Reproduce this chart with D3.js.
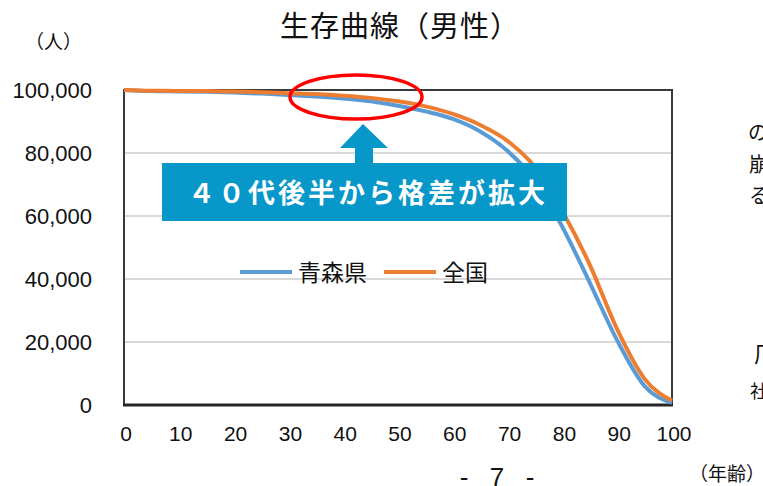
<!DOCTYPE html>
<html lang="ja">
<head>
<meta charset="utf-8">
<script src="https://cdn.jsdelivr.net/npm/d3@7"></script>
<style>
  html, body { margin: 0; padding: 0; background: #fff; }
  #chart { width: 763px; height: 486px; overflow: hidden; }
  .jp { font-family: "Noto Sans CJK JP", "Noto Sans", sans-serif; }
  .num { font-family: "Liberation Sans", Arial, sans-serif; }
</style>
</head>
<body>
<div id="chart"></div>
<script>
// ages (years) and survivors per 100,000 males
const ages = [0, 5, 10, 15, 20, 25, 30, 35, 40, 45, 50, 55, 60, 65, 70, 75, 80, 85, 90, 95, 100];
const aomori = [100000, 99650, 99550, 99450, 99200, 98850, 98450, 97950, 97300, 96400, 95000,
  93200, 90800, 86800, 80600, 71300, 56500, 38800, 20500, 6000, 700];
const zenkoku = [100000, 99750, 99700, 99650, 99500, 99300, 99000, 98700, 98200, 97500, 96400,
  94800, 92400, 88900, 83800, 75500, 61500, 44500, 24000, 8300, 1400];

const seriesNames = ['青森県', '全国'];
const seriesColors = ['#5b9bd5', '#ed7d31'];
const xTicks = [0, 10, 20, 30, 40, 50, 60, 70, 80, 90, 100];
const yTicks = [0, 20000, 40000, 60000, 80000, 100000];

(function initChart() {
  const W = 763, H = 486;
  const svg = d3.select('#chart').append('svg')
    .attr('width', W).attr('height', H)
    .attr('viewBox', `0 0 ${W} ${H}`);

  svg.append('rect').attr('width', W).attr('height', H).attr('fill', '#fff');

  // plot area
  const left = 124, right = 672, top = 90, bottom = 405;
  const x = d3.scaleLinear().domain([0, 100]).range([left, right]);
  const y = d3.scaleLinear().domain([0, 100000]).range([bottom, top]);

  // title + unit labels
  svg.append('text').attr('class', 'jp')
    .attr('x', 400).attr('y', 37)
    .attr('text-anchor', 'middle')
    .attr('font-size', 29).attr('letter-spacing', 1)
    .attr('fill', '#111')
    .text('生存曲線（男性）');

  svg.append('text').attr('class', 'jp')
    .attr('x', 25).attr('y', 49)
    .attr('font-size', 19).attr('fill', '#111')
    .text('（人）');

  // gridlines
  svg.append('g').selectAll('line')
    .data(yTicks.filter(d => d > 0 && d < 100000))
    .join('line')
    .attr('x1', left).attr('x2', right)
    .attr('y1', d => y(d)).attr('y2', d => y(d))
    .attr('stroke', '#d9d9d9').attr('stroke-width', 2);

  // y axis labels
  const fmt = d3.format(',');
  svg.append('g').selectAll('text')
    .data(yTicks).join('text')
    .attr('class', 'num')
    .attr('x', 92).attr('y', d => y(d) + 8)
    .attr('text-anchor', 'end')
    .attr('font-size', 22)
    .attr('fill', '#111')
    .text(d => fmt(d));

  // x axis labels
  svg.append('g').selectAll('text')
    .data(xTicks).join('text')
    .attr('class', 'num')
    .attr('x', d => x(d) + 2).attr('y', 441)
    .attr('text-anchor', 'middle')
    .attr('font-size', 21).attr('fill', '#111')
    .text(d => d);

  // frame
  svg.append('rect')
    .attr('x', left).attr('y', top)
    .attr('width', right - left).attr('height', bottom - top)
    .attr('fill', 'none').attr('stroke', '#3a3a3a').attr('stroke-width', 2);
  svg.append('line')
    .attr('x1', left - 1).attr('x2', right + 1)
    .attr('y1', bottom).attr('y2', bottom)
    .attr('stroke', '#262626').attr('stroke-width', 3);

  // curves
  const line = d3.line()
    .x((d, i) => x(ages[i]))
    .y(d => y(d))
    .curve(d3.curveMonotoneX);

  [aomori, zenkoku].forEach((s, i) => {
    svg.append('path')
      .datum(s)
      .attr('d', line)
      .attr('fill', 'none')
      .attr('stroke', seriesColors[i])
      .attr('stroke-width', 4)
      .attr('stroke-linejoin', 'round');
  });

  // legend
  const legend = svg.append('g').attr('class', 'legend');
  const legX = [240, 384];
  seriesNames.forEach((name, i) => {
    legend.append('line')
      .attr('x1', legX[i]).attr('x2', legX[i] + 52)
      .attr('y1', 272).attr('y2', 272)
      .attr('stroke', seriesColors[i]).attr('stroke-width', 4);
    legend.append('text').attr('class', 'jp')
      .attr('x', legX[i] + 58).attr('y', 281)
      .attr('font-size', 23).attr('fill', '#111')
      .text(name);
  });

  // callout box + arrow
  const blue = '#0797c9';
  svg.append('rect')
    .attr('x', 162).attr('y', 163)
    .attr('width', 405).attr('height', 58)
    .attr('fill', blue);
  svg.append('text').attr('class', 'jp')
    .attr('x', 188).attr('y', 203)
    .attr('font-size', 27).attr('font-weight', 700)
    .attr('letter-spacing', 3)
    .attr('fill', '#fff')
    .text('４０代後半から格差が拡大');
  svg.append('path')
    .attr('d', 'M363,124 L388,148 L373,148 L373,164 L355,164 L355,148 L340,148 Z')
    .attr('fill', blue);

  // red ellipse highlight
  svg.append('ellipse')
    .attr('cx', 356).attr('cy', 97)
    .attr('rx', 66).attr('ry', 22)
    .attr('fill', 'none').attr('stroke', '#ff0000').attr('stroke-width', 3.5);

  // page number and x unit
  const pageNo = [{ t: '-', x: 464 }, { t: '7', x: 497 }, { t: '-', x: 530 }];
  svg.append('g').selectAll('text')
    .data(pageNo).join('text')
    .attr('class', 'num')
    .attr('x', d => d.x).attr('y', 486)
    .attr('text-anchor', 'middle')
    .attr('font-size', 26).attr('fill', '#111')
    .text(d => d.t);
  svg.append('text').attr('class', 'jp')
    .attr('x', 689).attr('y', 481)
    .attr('font-size', 19).attr('fill', '#111')
    .text('（年齢）');

  // clipped body text at the right edge of the page
  const side = [
    { t: 'の', x: 748, y: 140, s: 20 },
    { t: '崩', x: 749, y: 172, s: 20 },
    { t: 'る', x: 749, y: 203, s: 20 },
    { t: '厂', x: 754, y: 362, s: 22 },
    { t: '社', x: 750, y: 398, s: 18 }
  ];
  svg.append('g').selectAll('text')
    .data(side).join('text')
    .attr('class', 'jp')
    .attr('x', d => d.x).attr('y', d => d.y)
    .attr('font-size', d => d.s).attr('fill', '#111')
    .text(d => d.t);
})();
</script>
</body>
</html>
